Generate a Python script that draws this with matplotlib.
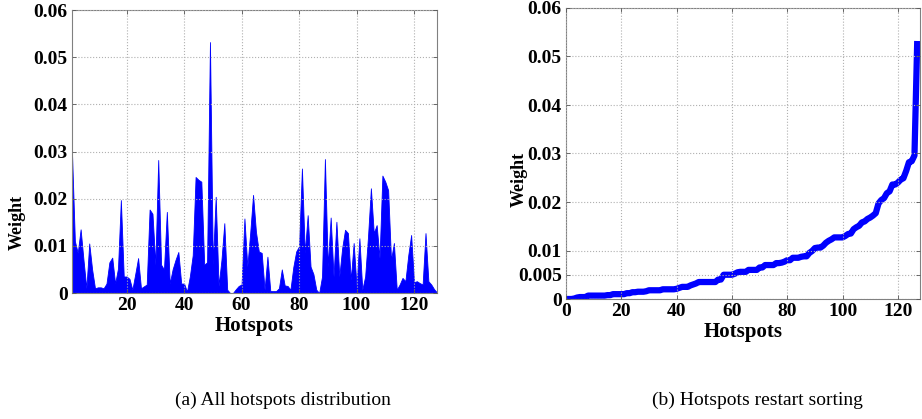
import numpy as np
import matplotlib
matplotlib.use("Agg")
import matplotlib.pyplot as plt

# weight of each hotspot
weights = [
    0.0296, 0.0110, 0.0085, 0.0135, 0.0070, 0.0010, 0.0105, 0.0050, 0.0010, 0.0012,
    0.0012, 0.0010, 0.0020, 0.0065, 0.0075, 0.0020, 0.0052, 0.0197, 0.0035, 0.0035,
    0.0030, 0.0007, 0.0040, 0.0074, 0.0010, 0.0014, 0.0018, 0.0177, 0.0168, 0.0060,
    0.0282, 0.0060, 0.0050, 0.0172, 0.0020, 0.0050, 0.0070, 0.0087, 0.0020, 0.0020,
    0.0003, 0.0035, 0.0080, 0.0246, 0.0240, 0.0236, 0.0060, 0.0065, 0.0532, 0.0060,
    0.0204, 0.0015, 0.0070, 0.0148, 0.0007, 0.0000, 0.0000, 0.0008, 0.0015, 0.0018,
    0.0158, 0.0056, 0.0127, 0.0208, 0.0130, 0.0088, 0.0085, 0.0007, 0.0077, 0.0004,
    0.0004, 0.0004, 0.0010, 0.0050, 0.0016, 0.0015, 0.0007, 0.0055, 0.0088, 0.0099,
    0.0264, 0.0085, 0.0165, 0.0056, 0.0040, 0.0007, 0.0000, 0.0035, 0.0284, 0.0056,
    0.0160, 0.0035, 0.0151, 0.0035, 0.0095, 0.0134, 0.0127, 0.0028, 0.0106, 0.0014,
    0.0116, 0.0007, 0.0035, 0.0120, 0.0222, 0.0127, 0.0144, 0.0074, 0.0249, 0.0236,
    0.0218, 0.0070, 0.0106, 0.0007, 0.0018, 0.0032, 0.0025, 0.0080, 0.0123, 0.0023,
    0.0025, 0.0021, 0.0018, 0.0127, 0.0025, 0.0018, 0.0008, 0.0001,
]
hotspots = np.arange(1, len(weights) + 1)
# panel (b): same weights sorted, ranks start at 0
sorted_weights = np.sort(weights)
ranks = np.arange(len(weights))

xticks_a = [20, 40, 60, 80, 100, 120]
xticks_b = [0, 20, 40, 60, 80, 100, 120]
yticks_a = [0, 0.01, 0.02, 0.03, 0.04, 0.05, 0.06]
yticks_b = [0, 0.005, 0.01, 0.02, 0.03, 0.04, 0.05, 0.06]
captions = ['(a) All hotspots distribution', '(b) Hotspots restart sorting']

plt.rcParams['font.family'] = ['Liberation Serif', 'DejaVu Serif']
plt.rcParams['font.weight'] = 'bold'

fig = plt.figure(figsize=(9.22, 4.19), dpi=100)
W, H = 922, 419
ax1 = fig.add_axes([72 / W, 1 - 293 / H, 365 / W, 283 / H])
ax2 = fig.add_axes([566 / W, 1 - 299 / H, 354 / W, 291 / H])

# (a) area plot
ax1.fill_between(hotspots, weights, 0, color='#0000ff', linewidth=0.6, edgecolor='#0000ff')
ax1.set_xlim(1, 128)
ax1.set_ylim(0, 0.06)
ax1.set_xticks(xticks_a)
ax1.set_yticks(yticks_a)
ax1.set_yticklabels(['0', '0.01', '0.02', '0.03', '0.04', '0.05', '0.06'])
ax1.set_xlabel('Hotspots', fontsize=15, fontweight='bold', labelpad=0)
ax1.set_ylabel('Weight', fontsize=13, fontweight='bold')
ax1.yaxis.set_label_coords(-0.128, 0.25)
ax1.xaxis.set_label_coords(0.5, -0.08)

# (b) sorted weights
ax2.plot(ranks, sorted_weights, color='#0000ff', linewidth=4.5, solid_capstyle='butt')
ax2.set_xlim(0, 128)
ax2.set_ylim(0, 0.06)
ax2.set_xticks(xticks_b)
ax2.set_yticks(yticks_b)
ax2.set_yticklabels(['0', '0.005', '0.01', '0.02', '0.03', '0.04', '0.05', '0.06'])
ax2.set_xlabel('Hotspots', fontsize=15, fontweight='bold', labelpad=0)
ax2.set_ylabel('Weight', fontsize=13, fontweight='bold')
ax2.yaxis.set_label_coords(-0.108, 0.41)
ax2.xaxis.set_label_coords(0.5, -0.078)

for ax in (ax1, ax2):
    ax.grid(True, linestyle=':', color='#b0b0b0', linewidth=0.8)
    ax.set_axisbelow(False)
    ax.tick_params(direction='in', top=True, right=True, length=3, width=0.6,
                   color='#555555', labelsize=14, pad=3)
    for lab in ax.get_xticklabels() + ax.get_yticklabels():
        lab.set_fontweight('bold')
    for sp in ax.spines.values():
        sp.set_color('#808080')
        sp.set_linewidth(0.8)

fig.text(283 / W, 1 - 400 / H, captions[0], ha='center', va='center',
         fontsize=14, fontweight='normal')
fig.text(757 / W, 1 - 400 / H, captions[1], ha='center', va='center',
         fontsize=14, fontweight='normal')

fig.savefig('out.png', dpi=100)
